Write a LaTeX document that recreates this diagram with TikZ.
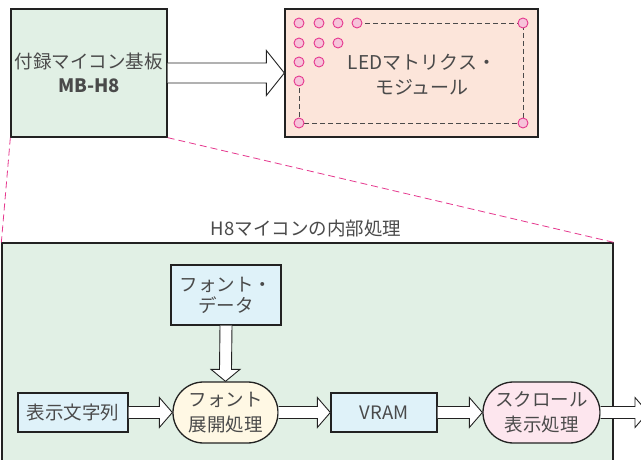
\documentclass[tikz,border=0pt]{standalone}
\usepackage{fontspec}
\setmainfont{Noto Sans CJK JP}
\usetikzlibrary{calc,shapes.misc}
\definecolor{boxline}{HTML}{222222}
\definecolor{txt}{HTML}{4A4A4A}
\definecolor{greenfill}{HTML}{E1F0E5}
\definecolor{peachfill}{HTML}{FCE5DA}
\definecolor{bluefill}{HTML}{DFF2F9}
\definecolor{creamfill}{HTML}{FFF8E4}
\definecolor{pinkfill}{HTML}{FDE6EE}
\definecolor{magline}{HTML}{E6388E}
\definecolor{ledfill}{HTML}{F6C4DA}
\tikzset{
  x=1pt,y=-1pt,
  box/.style={draw=boxline, line width=1.3pt, inner sep=0pt, align=center, text=txt,
    font=\fontsize{18.5}{23}\selectfont},
  stadium/.style={box, rounded rectangle},
  led/.style={circle, draw=magline, fill=ledfill, line width=0.9pt, minimum size=10pt, inner sep=0pt},
  leddash/.style={draw=txt, line width=0.9pt, dash pattern=on 5pt off 3pt},
  zoomline/.style={draw=magline, line width=0.8pt, dash pattern=on 7pt off 4pt},
  arr/.style={draw=boxline, fill=white, line width=0.9pt, line join=miter},
  lbl/.style={text=txt, align=center, inner sep=0pt, font=\fontsize{18.5}{23}\selectfont},
}
% horizontal block arrow: from #1 to #2, shaft half #3, head half #4, head length #5
\newcommand{\blockarrowR}[5]{%
  \path[arr] ([yshift=#3pt]#1) -- ([xshift=-#5pt,yshift=#3pt]#2) -- ([xshift=-#5pt,yshift=#4pt]#2)
    -- (#2) -- ([xshift=-#5pt,yshift=-#4pt]#2) -- ([xshift=-#5pt,yshift=-#3pt]#2) -- ([yshift=-#3pt]#1);}
\newcommand{\blockarrowD}[5]{%
  \path[arr] ([xshift=#3pt]#1) -- ([yshift=#5pt,xshift=#3pt]#2) -- ([yshift=#5pt,xshift=#4pt]#2)
    -- (#2) -- ([yshift=#5pt,xshift=-#4pt]#2) -- ([yshift=#5pt,xshift=-#3pt]#2) -- ([xshift=-#3pt]#1);}
\begin{document}
\begin{tikzpicture}
\clip (0,0) rectangle (641,460);
\fill[white] (0,0) rectangle (641,460);

% top boards
\node[box, fill=greenfill, minimum width=156pt, minimum height=128pt] (mb) at (89,73)
  {付録マイコン基板\\[1pt]{\bfseries MB-H8}};
\node[box, fill=peachfill, minimum width=253pt, minimum height=128pt] (ledbox) at (411.5,73) {};
\node[lbl, font=\fontsize{19}{25}\selectfont] (ledtxt) at (422,75) {LEDマトリクス・\\モジュール};

% LED dots
\foreach \n/\x/\y in {a1/299/23, a2/319/23, a3/338/23, a4/357/23, aR/523/23,
                      b1/299/43, b2/319/43, b3/338/43,
                      c1/299/62, c2/319/62,
                      d1/299/81,
                      e1/299/123, eR/523/123}
  \coordinate (p\n) at (\x,\y);
\draw[leddash] (pa4) -- (paR) -- (peR) -- (pe1) -- (pd1);
\foreach \n in {a1,a2,a3,a4,aR,b1,b2,b3,c1,c2,d1,e1,eR}
  \node[led] (\n) at (p\n) {};

% arrow board -> LED
\blockarrowR{mb.east}{ledbox.west}{10}{22.5}{18}

% big box
\node[box, fill=greenfill, minimum width=611pt, minimum height=240pt] (big) at (307.5,363) {};
\draw[zoomline] (mb.south west) -- (big.north west);
\draw[zoomline] (mb.south east) -- (big.north east);
\node[lbl] (title) at (306,228) {H8マイコンの内部処理};

% inner nodes
\node[box, fill=bluefill, minimum width=110pt, minimum height=60pt, font=\fontsize{18.5}{21}\selectfont] (fontdata) at (226,295)
  {フォント・\\データ};
\node[box, fill=bluefill, minimum width=110pt, minimum height=39pt] (str) at (73,412.5) {表示文字列};
\node[stadium, fill=creamfill, minimum width=105pt, minimum height=61pt, font=\fontsize{18.5}{25}\selectfont] (expand) at (225.5,412.5)
  {フォント\\展開処理};
\node[box, fill=bluefill, minimum width=106pt, minimum height=39pt] (vram) at (384,412.5) {VRAM};
\node[stadium, fill=pinkfill, minimum width=117pt, minimum height=61pt, font=\fontsize{18.5}{25}\selectfont] (scroll) at (541.5,412.5)
  {スクロール\\表示処理};
\coordinate (out) at (648,412.5);

% arrows
\blockarrowD{fontdata.south}{expand.north}{6}{14.5}{12}
\blockarrowR{str.east}{expand.west}{6}{15}{13}
\blockarrowR{expand.east}{vram.west}{6}{15}{13}
\blockarrowR{vram.east}{scroll.west}{6}{15}{13}
\blockarrowR{scroll.east}{out}{6}{15}{13}
\end{tikzpicture}
\end{document}
